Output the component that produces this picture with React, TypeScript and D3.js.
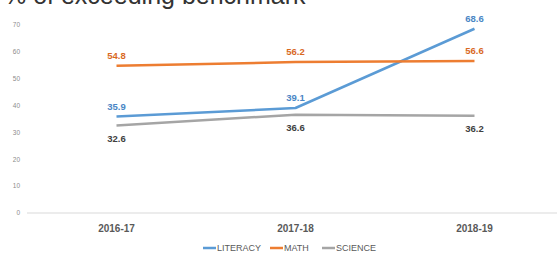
import React from 'react'
import * as d3 from 'd3'

const years = ['2016-17', '2017-18', '2018-19']
const literacy = [35.9, 39.1, 68.6]
const math = [54.8, 56.2, 56.6]
const science = [32.6, 36.6, 36.2]
const yTicks = [0, 10, 20, 30, 40, 50, 60, 70]

const series = [
  {name: 'LITERACY', values: literacy, color: '#5b9bd5', labelColor: '#4a86c5', below: false},
  {name: 'MATH', values: math, color: '#ed7d31', labelColor: '#d9691f', below: false},
  {name: 'SCIENCE', values: science, color: '#a5a5a5', labelColor: '#404040', below: true},
]

const W = 557
const H = 257
const font = '"Liberation Sans", Arial, sans-serif'

export default function App() {
  const x = d3.scaleBand().domain(years).range([27, 564])
  const y = d3.scaleLinear().domain([0, 70]).range([213, 25])
  const cx = (d: string) => (x(d) as number) + x.bandwidth() / 2

  const line = d3.line<number>()
    .x((d, i) => cx(years[i]))
    .y(d => y(d))

  // legend layout
  const legendX = [203, 270, 322]

  return (
    <svg width={W} height={H} style={{position: 'absolute', left: 0, top: 0, background: '#fff'}}>
      {/* title is cut off by the top edge, as in the original screenshot */}
      <text x={4} y={4} fontFamily={font} fontSize={25} fill="#333">% of exceeding benchmark</text>

      {yTicks.map(t => (
        <text key={t} x={20} y={y(t)} dy="0.35em" textAnchor="end" fontFamily={font} fontSize={6.5} fill="#8c8c8c">{t}</text>
      ))}
      <line x1={27} x2={W} y1={y(0)} y2={y(0)} stroke="#d9d9d9" strokeWidth={1} />

      {years.map(yr => (
        <text key={yr} x={cx(yr)} y={228} dy="0.35em" textAnchor="middle" fontFamily={font} fontSize={10} fontWeight="bold" fill="#595959">{yr}</text>
      ))}

      {series.map(s => (
        <path key={s.name} d={line(s.values) as string} fill="none" stroke={s.color} strokeWidth={2.5} strokeLinejoin="round" />
      ))}

      {series.map(s => s.values.map((v, i) => (
        <text key={s.name + i} x={cx(years[i])} y={y(v) + (s.below ? 13 : -10)} dy="0.35em" textAnchor="middle"
          fontFamily={font} fontSize={9.5} fontWeight="bold" fill={s.labelColor}>{v.toFixed(1)}</text>
      )))}

      {series.map((s, i) => (
        <g key={s.name} transform={`translate(${legendX[i]}, 248)`}>
          <line x1={0} x2={13} y1={0} y2={0} stroke={s.color} strokeWidth={2.5} />
          <text x={14} y={0} dy="0.35em" fontFamily={font} fontSize={9} fill="#595959">{s.name}</text>
        </g>
      ))}
    </svg>
  )
}
